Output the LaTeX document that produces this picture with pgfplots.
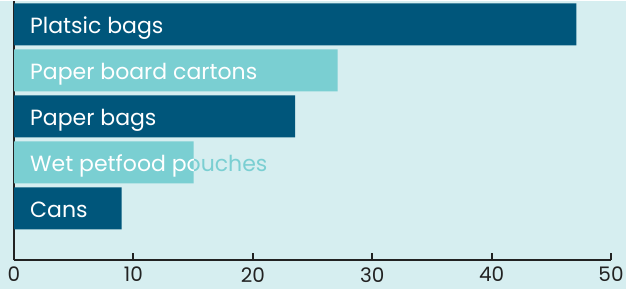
\documentclass[border=0pt]{standalone}
\usepackage{pgfplots}
\pgfplotsset{compat=1.18}
\usepackage{fontspec}
\setmainfont{Poppins}
\definecolor{bg}{HTML}{D6EEF0}
\definecolor{darkbar}{HTML}{00567B}
\definecolor{tealbar}{HTML}{7ACFD2}
\definecolor{axisc}{HTML}{222222}
\begin{document}
\begin{tikzpicture}[x=1pt,y=1pt]
\fill[bg] (0,0) rectangle (626,288);
\begin{axis}[
  at={(14pt,28.5pt)}, anchor=south west,
  scale only axis, width=597pt, height=259.5pt,
  xmin=0, xmax=50, ymin=-1.126, ymax=4.515,
  axis x line*=bottom, axis y line*=left,
  x axis line style={line width=2pt, color=axisc, -},
  y axis line style={line width=1.2pt, color=axisc, -},
  xtick={0,10,20,30,40,50}, ytick=\empty,
  tick align=inside, major tick length=7pt,
  xtick style={line width=2pt, color=axisc},
  xticklabel style={font=\fontsize{20}{20}\selectfont, text=axisc, inner sep=0pt, yshift=-7pt},
  /pgf/number format/assume math mode=true,
  xbar, bar width=0.913, clip=false,
]
\addplot[xbar, bar shift=0pt, fill=darkbar, draw=none] coordinates {(47.1,4) (23.55,2) (9.02,0)};
\addplot[xbar, bar shift=0pt, fill=tealbar, draw=none] coordinates {(27.1,3) (15.05,1)};
\tikzset{lab/.style={anchor=base west, font=\fontsize{22}{22}\selectfont, inner sep=0pt, xshift=16pt, yshift=-9.5pt}}
\node[lab, text=white] at (axis cs:0,4) {Platsic bags};
\node[lab, text=white] at (axis cs:0,3) {Paper board cartons};
\node[lab, text=white] at (axis cs:0,2) {Paper bags};
\node[lab, text=tealbar] at (axis cs:0,1) {Wet petfood pouches};
\begin{scope}
\clip (axis cs:0,0.5435) rectangle (axis cs:15.05,1.4565);
\node[lab, text=white] at (axis cs:0,1) {Wet petfood pouches};
\end{scope}
\node[lab, text=white] at (axis cs:0,0) {Cans};
\end{axis}
\end{tikzpicture}
\end{document}
